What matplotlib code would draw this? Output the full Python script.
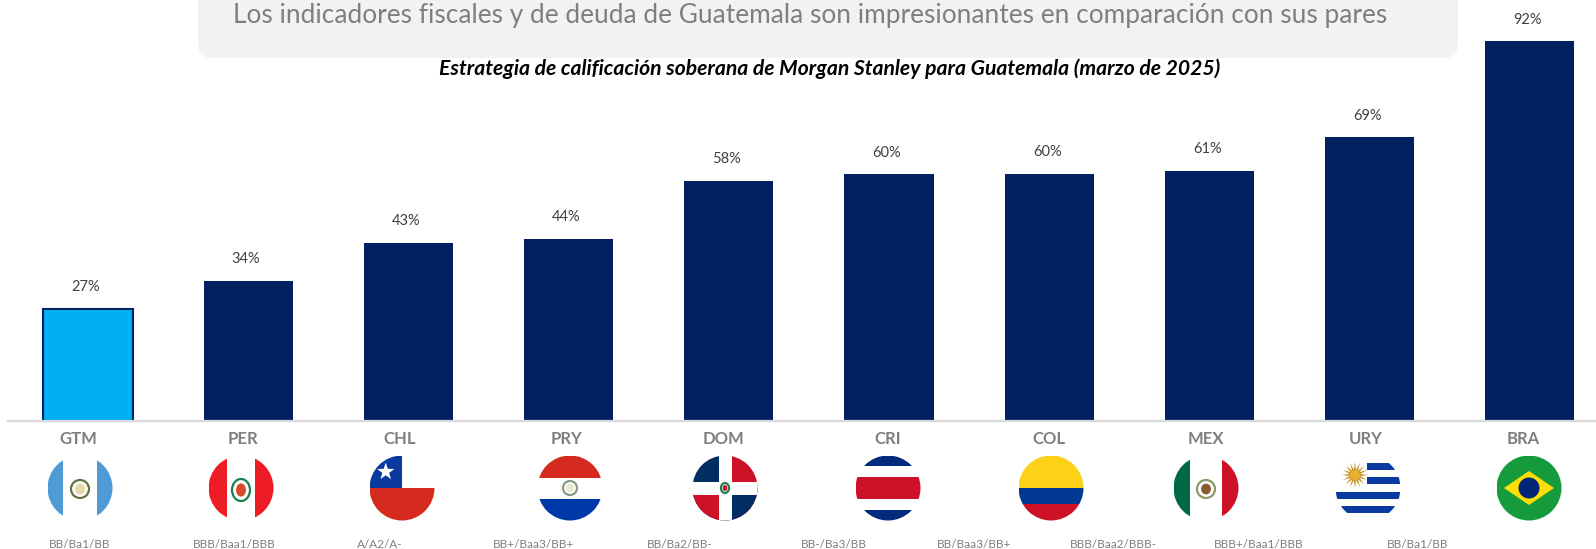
import numpy as np
import matplotlib
matplotlib.use("Agg")
import matplotlib.pyplot as plt
from matplotlib.patches import Circle, Ellipse, FancyBboxPatch, Polygon, Rectangle

plt.rcParams['font.family'] = ['Lato', 'DejaVu Sans']

countries = ["GTM", "PER", "CHL", "PRY", "DOM", "CRI", "COL", "MEX", "URY", "BRA"]
debt_values = [27.2, 34, 43.1, 44.1, 58.2, 59.7, 59.9, 60.6, 68.7, 92]
ratings = ["BB/Ba1/BB", "BBB/Baa1/BBB", "A/A2/A-", "BB+/Baa3/BB+", "BB/Ba2/BB-",
           "BB-/Ba3/BB", "BB/Baa3/BB+", "BBB/Baa2/BBB-", "BBB+/Baa1/BBB", "BB/Ba1/BB"]
header = "Los indicadores fiscales y de deuda de Guatemala son impresionantes en comparación con sus pares"
title = "Estrategia de calificación soberana de Morgan Stanley para Guatemala (marzo de 2025)"

# where the labels and flags sit, in pixels, they are not centred under the bars
label_x = [78, 243, 400, 567, 724, 888, 1049, 1206, 1366, 1523]
flag_x = [80, 241, 402, 570, 725, 888, 1051, 1206, 1368, 1529]
rating_x = [80, 234, 380, 534, 680, 834, 974, 1113, 1259, 1418]

NAVY = "#002060"
GRAY = "#7F7F7F"
W, H = 1596, 549
BASE_Y = 421
FLAG_Y = 488
R = 32.5

fig = plt.figure(figsize=(W / 100, H / 100), dpi=100)

# bars, axes covers from the left end of the baseline to the right edge of the figure
ax = fig.add_axes([8 / W, (H - BASE_Y) / H, (W - 8) / W, BASE_Y / H])
ax.set_xlim((8 - 88) / 160.2, (W - 88) / 160.2)
ax.set_ylim(0, BASE_Y / 4.13)
ax.axis("off")
positions = np.arange(len(countries))
colors = ["#00B0F0"] + [NAVY] * (len(countries) - 1)
bars = ax.bar(positions, debt_values, width=0.556, color=colors, zorder=2, clip_on=False)
bars[0].set_edgecolor(NAVY)
bars[0].set_linewidth(1.5)
for p, v in zip(positions, debt_values):
    ax.annotate(f"{v:.0f}%", (p, v), xytext=(-1.5, 15.5), textcoords="offset points", ha="center",
                va="center", fontsize=10.5, color="#404040", annotation_clip=False)
ax.axhline(0, color="#D9D9D9", lw=1.6, zorder=3, clip_on=False)

# everything else is placed in pixel coords
over = fig.add_axes([0, 0, 1, 1], zorder=-1)
over.set_xlim(0, W)
over.set_ylim(H, 0)
over.axis("off")
top = fig.add_axes([0, 0, 1, 1], zorder=5)
top.set_xlim(0, W)
top.set_ylim(H, 0)
top.axis("off")
top.patch.set_alpha(0)

over.add_patch(FancyBboxPatch((212, -40), 1232, 84, boxstyle="round,pad=14,rounding_size=14",
                              fc="#F2F2F2", ec="none"))
top.text(810, 15, header, ha="center", va="center", fontsize=18.9, color=GRAY)
top.text(830, 69, title, ha="center", va="center", fontsize=15.2, color="black",
         fontweight="bold", style="italic")

for i in range(len(countries)):
    top.text(label_x[i], 439, countries[i], ha="center", va="center", fontsize=12,
             fontweight="bold", color=GRAY)
    top.text(rating_x[i], 544, ratings[i], ha="center", va="center", fontsize=8.5, color=GRAY)


def hbands(cx, clip, bands):
    for y0, y1, c in bands:
        p = Rectangle((cx - R, FLAG_Y - R + y0 * 2 * R), 2 * R, (y1 - y0) * 2 * R, fc=c, ec="none")
        top.add_patch(p)
        p.set_clip_path(clip)


def vbands(cx, clip, bands):
    for x0, x1, c in bands:
        p = Rectangle((cx - R + x0 * 2 * R, FLAG_Y - R), (x1 - x0) * 2 * R, 2 * R, fc=c, ec="none")
        top.add_patch(p)
        p.set_clip_path(clip)


def star(cx, cy, r, c="white", n=5):
    ang = np.pi / 2 + np.arange(2 * n) * np.pi / n
    rad = np.where(np.arange(2 * n) % 2 == 0, r, r * 0.4)
    top.add_patch(Polygon(np.c_[cx + rad * np.cos(ang), cy - rad * np.sin(ang)], fc=c, ec="none"))


def crest(cx, cy, rx, ry, ring, inner):
    top.add_patch(Ellipse((cx, cy), 2 * rx, 2 * ry, fc="none", ec=ring, lw=1.6))
    top.add_patch(Ellipse((cx, cy), 1.1 * rx, 1.2 * ry, fc=inner, ec="none"))


def draw_flag(code, cx):
    clip = Circle((cx, FLAG_Y), R, transform=top.transData)
    y = FLAG_Y
    if code == "GTM":
        vbands(cx, clip, [(0, .24, "#4F9BD5"), (.24, .76, "white"), (.76, 1, "#4F9BD5")])
        crest(cx, y + 1, 9, 9, "#66733F", "#E6D9A5")
    elif code == "PER":
        vbands(cx, clip, [(0, .29, "#EE1C25"), (.29, .71, "white"), (.71, 1, "#EE1C25")])
        crest(cx, y + 2, 9, 11, "#1B7F4B", "#D8482B")
    elif code == "CHL":
        hbands(cx, clip, [(0, .5, "white"), (.5, 1, "#D52B1E")])
        p = Rectangle((cx - R, y - R), R, R, fc="#0A3A9F", ec="none")
        top.add_patch(p)
        p.set_clip_path(clip)
        star(cx - R * 0.5, y - R * 0.5, 9)
    elif code == "PRY":
        hbands(cx, clip, [(0, .34, "#D52B1E"), (.34, .67, "white"), (.67, 1, "#0038A8")])
        crest(cx, y, 7, 7, "#8A9A8A", "#E8E8D0")
    elif code == "DOM":
        vbands(cx, clip, [(0, .5, "#002D62"), (.5, 1, "#CE1126")])
        for (x0, y0, c) in [(cx - R, y, "#CE1126"), (cx, y, "#002D62")]:
            p = Rectangle((x0, y0), R, R, fc=c, ec="none")
            top.add_patch(p)
            p.set_clip_path(clip)
        hbands(cx, clip, [(.4, .6, "white")])
        vbands(cx, clip, [(.4, .6, "white")])
        crest(cx, y, 4, 5, "#1B7F4B", "#CE1126")
    elif code == "CRI":
        hbands(cx, clip, [(0, .165, "#002B7F"), (.165, .335, "white"), (.335, .665, "#CE1126"),
                          (.665, .835, "white"), (.835, 1, "#002B7F")])
    elif code == "COL":
        hbands(cx, clip, [(0, .5, "#FCD116"), (.5, .75, "#003893"), (.75, 1, "#CE1126")])
    elif code == "MEX":
        vbands(cx, clip, [(0, .25, "#006847"), (.25, .75, "white"), (.75, 1, "#CE1126")])
        crest(cx, y + 1, 9, 9, "#8C9A6B", "#8A5A2B")
    elif code == "URY":
        hbands(cx, clip, [(0, 1, "white"), (.56, .665, "#0A3A9F"), (.78, .885, "#0A3A9F")])
        for y0 in (.11, .335):
            p = Rectangle((cx - 1, y - R + y0 * 2 * R), R + 1, .11 * 2 * R, fc="#0A3A9F", ec="none")
            top.add_patch(p)
            p.set_clip_path(clip)
        star(cx - 13, y - 13, 13, "#C8901E", n=16)
        top.add_patch(Circle((cx - 13, y - 13), 5, fc="#E8B030", ec="none"))
    elif code == "BRA":
        hbands(cx, clip, [(0, 1, "#169B3C")])
        top.add_patch(Polygon([(cx - 25, y), (cx, y - 17), (cx + 25, y), (cx, y + 17)],
                              fc="#FEDF00", ec="none"))
        top.add_patch(Circle((cx, y), 10.5, fc="#002776", ec="none"))


for code, cx in zip(countries, flag_x):
    draw_flag(code, cx)

fig.savefig("out.png", dpi=100)
